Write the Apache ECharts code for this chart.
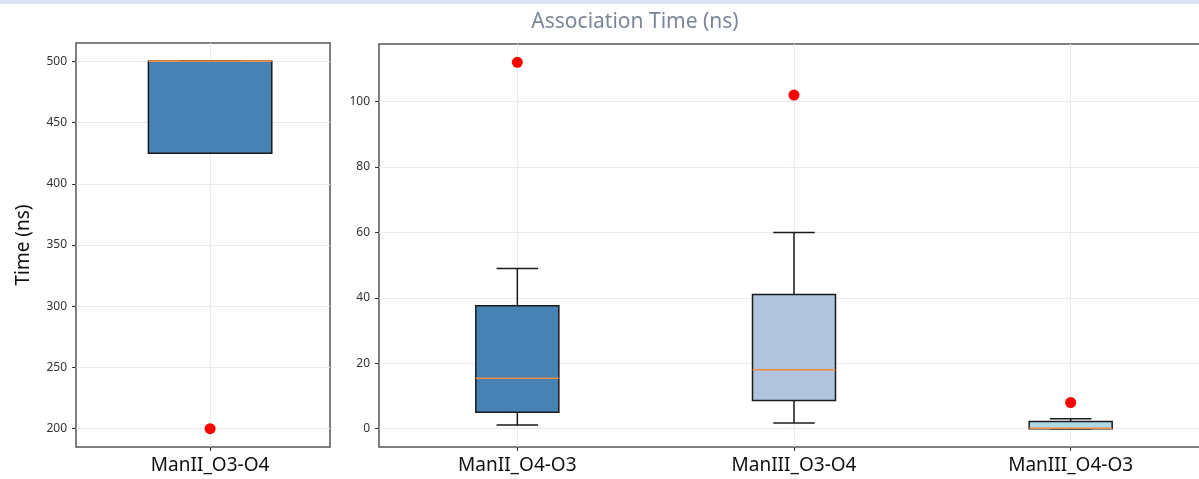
<!DOCTYPE html>
<html>
<head>
<meta charset="utf-8">
<script src="https://cdn.jsdelivr.net/npm/echarts@6/dist/echarts.min.js"></script>
<style>
html,body{margin:0;padding:0;background:#fff;}
#chart{width:1199px;height:479px;}
</style>
</head>
<body>
<div id="chart"></div>
<script>
// ---- data ----
const leftCategories = ['ManII_O3-O4'];
const rightCategories = ['ManII_O4-O3', 'ManIII_O3-O4', 'ManIII_O4-O3'];
// per category (left first, then right)
const whiskerLow  = [425, 1.1, 1.7, 0];
const quartile1   = [425, 5.0, 8.6, 0];
const medians     = [500, 15.4, 18.0, 0.1];
const quartile3   = [500, 37.6, 41.0, 2.2];
const whiskerHigh = [500, 49.0, 60.0, 3.0];
const outliers    = [200, 112, 102, 8];
const leftTicks  = [200, 250, 300, 350, 400, 450, 500];
const rightTicks = [0, 20, 40, 60, 80, 100];

// ---- styles ----
const boxFill = ['#4682b4', '#4682b4', '#b0c4de', '#add8e6'];
const edge = '#1a1a1a';
const medianColor = '#f08a3c';
const font = 'Noto Sans';

function boxData(start, n) {
  const out = [];
  for (let i = 0; i < n; i++) {
    const k = start + i;
    out.push([i + 1, whiskerLow[k], quartile1[k], medians[k], quartile3[k], whiskerHigh[k], k]);
  }
  return out;
}
function outlierData(start, n) {
  const out = [];
  for (let i = 0; i < n; i++) out.push([i + 1, outliers[start + i]]);
  return out;
}
function makeRender(widthFrac) {
  return function (params, api) {
    const x = api.value(0);
    const k = api.value(6);
    const unit = api.size([1, 0])[0];
    const hw = unit * widthFrac / 2;
    const cw = hw / 2;
    const pLow = api.coord([x, api.value(1)]);
    const pQ1 = api.coord([x, api.value(2)]);
    const pMed = api.coord([x, api.value(3)]);
    const pQ3 = api.coord([x, api.value(4)]);
    const pHigh = api.coord([x, api.value(5)]);
    const cx = pQ1[0];
    const ls = { stroke: edge, lineWidth: 1.5 };
    return {
      type: 'group',
      children: [
        { type: 'line', shape: { x1: cx, y1: pLow[1], x2: cx, y2: pQ1[1] }, style: ls },
        { type: 'line', shape: { x1: cx, y1: pQ3[1], x2: cx, y2: pHigh[1] }, style: ls },
        { type: 'line', shape: { x1: cx - cw, y1: pLow[1], x2: cx + cw, y2: pLow[1] }, style: ls },
        { type: 'line', shape: { x1: cx - cw, y1: pHigh[1], x2: cx + cw, y2: pHigh[1] }, style: ls },
        { type: 'rect', shape: { x: cx - hw, y: pQ3[1], width: hw * 2, height: pQ1[1] - pQ3[1] },
          style: { fill: boxFill[k], stroke: edge, lineWidth: 1.5 } },
        { type: 'line', shape: { x1: cx - hw, y1: pMed[1], x2: cx + hw, y2: pMed[1] },
          style: { stroke: medianColor, lineWidth: 1.5 } }
      ]
    };
  };
}

const chart = echarts.init(document.getElementById('chart'), null, { renderer: 'canvas' });

const tickStyle = { color: '#333' };
const splitStyle = { show: true, lineStyle: { color: '#ebebeb', width: 1 } };
const xLabel = { fontSize: 19, color: '#111', fontFamily: font, margin: 9 };
const yLabel = { color: '#333', fontSize: 12, fontFamily: font, margin: 9 };

chart.setOption({
  animation: false,
  backgroundColor: '#ffffff',
  graphic: [
    { type: 'rect', shape: { x: 0, y: 0, width: 1199, height: 4 }, style: { fill: '#d9e3f3' } },
    { type: 'text', x: 635, y: 12, style: { text: 'Association Time (ns)', fill: '#7b8797',
      font: '21px "Noto Sans"', textAlign: 'center' } }
  ],
  grid: [
    { left: 76, right: 1199 - 330, top: 43, bottom: 32, show: true, borderColor: '#555', borderWidth: 1.5,
      backgroundColor: 'transparent', outerBoundsMode: 'none', containLabel: false },
    { left: 379, right: -10, top: 44, bottom: 32, show: true, borderColor: '#555', borderWidth: 1.5,
      backgroundColor: 'transparent', outerBoundsMode: 'none', containLabel: false }
  ],
  xAxis: [
    {
      type: 'value', gridIndex: 0, min: 0.5, max: 1.447,
      axisLine: { show: false, onZero: false },
      axisTick: { show: true, length: 4, lineStyle: tickStyle, customValues: [1] },
      axisLabel: Object.assign({ customValues: [1], formatter: v => leftCategories[Math.round(v) - 1] || '' }, xLabel),
      splitLine: splitStyle
    },
    {
      type: 'value', gridIndex: 1, min: 0.5, max: 3.5,
      axisLine: { show: false, onZero: false },
      axisTick: { show: true, length: 4, lineStyle: tickStyle, customValues: [1, 2, 3] },
      axisLabel: Object.assign({ customValues: [1, 2, 3], formatter: v => rightCategories[Math.round(v) - 1] || '' }, xLabel),
      splitLine: splitStyle
    }
  ],
  yAxis: [
    {
      type: 'value', gridIndex: 0, min: 185, max: 515,
      axisLine: { show: false, onZero: false },
      axisTick: { show: true, length: 4, lineStyle: tickStyle, customValues: leftTicks },
      axisLabel: Object.assign({ customValues: leftTicks }, yLabel),
      splitLine: splitStyle,
      name: 'Time (ns)', nameLocation: 'middle', nameRotate: 90, nameGap: 43,
      nameTextStyle: { fontSize: 19, color: '#111', fontFamily: font }
    },
    {
      type: 'value', gridIndex: 1, min: -5.6, max: 117.6,
      axisLine: { show: false, onZero: false },
      axisTick: { show: true, length: 4, lineStyle: tickStyle, customValues: rightTicks },
      axisLabel: Object.assign({ customValues: rightTicks }, yLabel),
      splitLine: splitStyle
    }
  ],
  series: [
    { type: 'custom', xAxisIndex: 0, yAxisIndex: 0, renderItem: makeRender(0.46),
      data: boxData(0, 1), encode: { x: 0, y: [1, 2, 3, 4, 5] }, z: 2 },
    { type: 'custom', xAxisIndex: 1, yAxisIndex: 1, renderItem: makeRender(0.3),
      data: boxData(1, 3), encode: { x: 0, y: [1, 2, 3, 4, 5] }, z: 2 },
    { type: 'scatter', xAxisIndex: 0, yAxisIndex: 0, data: outlierData(0, 1),
      symbolSize: 11, itemStyle: { color: '#ff0000', opacity: 1 }, z: 3 },
    { type: 'scatter', xAxisIndex: 1, yAxisIndex: 1, data: outlierData(1, 3),
      symbolSize: 11, itemStyle: { color: '#ff0000', opacity: 1 }, z: 3 }
  ]
});
</script>
</body>
</html>
